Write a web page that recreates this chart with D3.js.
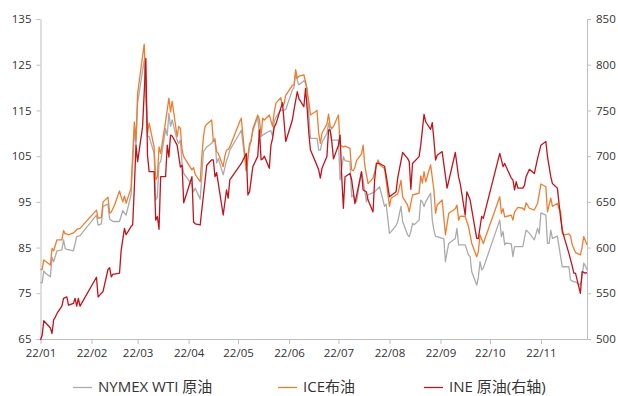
<!DOCTYPE html>
<html><head><meta charset="utf-8">
<script src="https://cdn.jsdelivr.net/npm/d3@7"></script>
<style>
html,body{margin:0;padding:0;background:#fff;}
svg{display:block;}
text{font-family:"Open Sans","Noto Sans CJK SC",sans-serif;fill:#333;}
</style></head>
<body><svg id="c" width="618" height="396"></svg>
<script>
// ---- data (2022, Chinese trading days) ----
const wtiDates = ["01-04","01-05","01-06","01-07","01-10","01-11","01-12","01-14","01-17","01-18","01-19","01-20","01-24","01-26","01-28","02-07","02-08","02-10","02-11","02-14","02-15","02-17","02-21","02-23","02-25","02-28","03-02","03-03","03-04","03-08","03-10","03-11","03-14","03-15","03-16","03-17","03-18","03-21","03-22","03-23","03-24","03-25","03-28","03-29","03-30","03-31","04-01","04-06","04-07","04-08","04-11","04-12","04-13","04-14","04-15","04-18","04-19","04-20","04-21","04-22","04-25","04-26","04-27","04-28","04-29","05-05","05-06","05-09","05-11","05-13","05-16","05-17","05-18","05-19","05-23","05-24","05-25","05-26","05-27","05-30","05-31","06-02","06-06","06-07","06-08","06-09","06-10","06-13","06-14","06-15","06-16","06-17","06-20","06-21","06-22","06-23","06-24","06-27","06-28","06-30","07-01","07-04","07-05","07-07","07-08","07-11","07-12","07-13","07-15","07-18","07-19","07-21","07-22","07-25","07-26","07-29","08-01","08-02","08-04","08-05","08-08","08-09","08-11","08-12","08-15","08-16","08-17","08-18","08-19","08-22","08-23","08-24","08-25","08-26","08-29","08-30","08-31","09-01","09-02","09-05","09-06","09-07","09-08","09-09","09-13","09-14","09-15","09-16","09-19","09-20","09-21","09-22","09-23","09-26","09-27","09-28","09-29","09-30","10-10","10-11","10-12","10-13","10-14","10-17","10-18","10-19","10-20","10-24","10-26","10-27","10-28","10-31","11-02","11-03","11-04","11-07","11-08","11-09","11-10","11-11","11-14","11-15","11-17","11-18","11-21","11-22","11-24","11-25","11-28","11-29","11-30","12-01","12-02"];
const wtiValues = [77.3,77.3,79.9,79.4,78.6,82.9,81.9,84.3,84.5,86.7,84.8,84.6,84.3,87.4,87.6,92.1,89.9,90.2,94.0,94.5,91.2,90.7,90.7,93.1,92.1,96.5,110.4,107.4,116.6,126.0,109.3,109.3,105.6,95.4,96.0,103.4,103.8,111.0,109.5,114.4,111.5,112.9,108.5,107.8,108.5,103.4,101.2,98.8,97.2,98.0,95.6,100.5,106.0,106.5,107.0,107.8,108.5,108.9,103.5,104.5,100.9,102.5,104.0,104.9,106.3,110.0,110.7,101.8,107.0,110.5,113.6,109.4,109.3,109.6,110.5,110.5,109.4,112.5,113.5,115.1,115.0,115.2,119.5,120.0,123.1,121.5,120.6,121.5,121.0,119.8,114.0,108.9,108.9,108.9,106.3,106.3,108.0,110.0,112.2,108.5,108.5,108.5,99.8,104.9,104.0,103.8,96.1,96.5,95.0,101.6,99.8,95.0,96.5,97.0,97.2,98.3,94.0,94.5,88.1,88.5,89.8,90.7,94.0,90.7,87.8,87.4,88.5,90.3,90.0,91.0,95.4,95.0,94.0,95.0,96.9,91.0,88.8,87.4,87.4,87.0,87.0,81.9,84.0,85.9,87.0,89.2,85.6,85.6,85.6,84.5,83.4,83.0,79.7,76.8,78.5,81.9,80.1,80.5,91.0,87.4,88.5,85.6,86.0,85.8,83.0,85.2,85.2,85.2,88.8,88.5,88.1,86.7,89.2,88.0,92.6,92.1,85.9,85.9,88.8,87.0,87.5,85.2,80.8,80.8,80.8,77.9,77.5,77.5,76.8,78.5,81.6,81.0,80.1];

const brentDates = ["01-04","01-05","01-06","01-07","01-10","01-11","01-12","01-14","01-17","01-18","01-19","01-20","01-21","01-24","01-25","01-26","01-28","02-07","02-08","02-10","02-11","02-14","02-15","02-16","02-18","02-21","02-22","02-23","02-24","02-25","02-28","03-02","03-03","03-04","03-08","03-10","03-11","03-14","03-15","03-16","03-17","03-18","03-21","03-23","03-24","03-25","03-28","03-29","03-30","03-31","04-01","04-06","04-07","04-08","04-11","04-12","04-13","04-14","04-15","04-18","04-19","04-20","04-21","04-22","04-25","04-26","04-27","04-28","04-29","05-05","05-06","05-09","05-11","05-12","05-13","05-16","05-17","05-18","05-19","05-20","05-23","05-25","05-26","05-27","05-30","05-31","06-01","06-02","06-06","06-07","06-08","06-09","06-10","06-13","06-14","06-15","06-16","06-17","06-20","06-21","06-22","06-23","06-24","06-27","06-28","06-29","06-30","07-01","07-04","07-05","07-07","07-08","07-11","07-12","07-13","07-14","07-15","07-18","07-19","07-20","07-22","07-25","07-28","07-29","08-01","08-04","08-05","08-08","08-09","08-11","08-12","08-15","08-16","08-18","08-22","08-23","08-24","08-25","08-26","08-29","08-31","09-01","09-02","09-05","09-07","09-09","09-13","09-14","09-15","09-16","09-19","09-21","09-23","09-26","09-27","09-28","09-30","10-10","10-11","10-12","10-13","10-17","10-18","10-19","10-20","10-21","10-24","10-25","10-26","10-28","10-31","11-02","11-04","11-07","11-08","11-10","11-11","11-14","11-15","11-16","11-17","11-18","11-21","11-22","11-23","11-25","11-28","11-29","11-30","12-01","12-02"];
const brentValues = [80.2,80.2,82.3,82.0,81.2,84.8,84.3,86.7,86.7,88.7,88.0,88.0,87.8,88.2,88.5,89.0,89.2,93.2,91.4,91.6,95.0,96.0,92.5,92.8,94.3,97.4,96.1,95.0,96.3,94.7,98.0,112.5,108.5,118.7,129.5,110.0,112.2,107.0,99.8,100.5,107.0,105.6,112.6,117.7,114.7,117.0,109.3,111.5,111.0,106.3,104.9,102.0,102.5,101.0,99.4,104.9,109.3,111.5,112.0,112.9,108.2,108.5,106.0,105.6,102.7,105.0,106.3,106.5,107.0,112.5,113.3,101.8,107.8,108.2,111.0,114.0,112.9,109.6,113.3,112.9,114.0,111.5,114.7,116.6,117.8,115.8,116.5,118.3,120.5,120.6,123.9,122.0,122.5,122.8,121.3,119.1,117.0,114.0,114.7,115.0,110.1,107.8,110.0,112.0,114.2,111.5,111.0,111.5,114.0,107.4,107.0,107.2,106.7,102.0,101.8,102.5,104.0,105.5,107.4,103.0,99.0,100.2,104.2,103.1,102.3,94.0,95.8,96.5,96.7,99.7,96.1,94.3,92.8,96.5,96.9,100.7,99.1,101.6,99.4,103.1,97.6,92.5,94.3,95.4,87.8,92.5,93.5,94.3,91.0,91.9,91.8,89.6,85.9,83.0,84.1,87.8,85.9,96.1,92.5,93.5,91.7,92.1,91.0,92.8,93.3,93.8,93.6,93.2,94.8,93.6,93.2,94.7,98.9,98.3,92.8,95.8,94.0,94.7,93.5,92.8,88.1,87.8,88.0,87.5,85.6,83.9,83.4,85.0,87.4,86.5,85.6];

const ineDates = ["01-04","01-05","01-06","01-07","01-10","01-11","01-12","01-13","01-14","01-17","01-18","01-20","01-21","01-24","01-25","01-26","01-27","01-28","02-07","02-08","02-09","02-11","02-14","02-15","02-16","02-17","02-18","02-21","02-22","02-24","02-25","02-28","03-01","03-02","03-03","03-04","03-07","03-09","03-10","03-11","03-14","03-15","03-16","03-17","03-18","03-21","03-22","03-23","03-24","03-25","03-28","03-29","03-30","03-31","04-01","04-06","04-07","04-08","04-11","04-15","04-18","04-19","04-20","04-21","04-25","04-27","04-28","04-29","05-06","05-09","05-10","05-11","05-13","05-16","05-17","05-18","05-19","05-20","05-23","05-24","05-25","05-26","05-27","05-31","06-02","06-06","06-07","06-09","06-10","06-13","06-14","06-15","06-16","06-17","06-20","06-22","06-23","06-24","06-27","06-28","06-29","06-30","07-01","07-04","07-05","07-06","07-07","07-08","07-11","07-12","07-14","07-18","07-19","07-21","07-22","07-25","07-26","07-27","07-29","08-01","08-02","08-04","08-08","08-09","08-12","08-15","08-16","08-17","08-18","08-22","08-23","08-25","08-26","08-29","08-30","08-31","09-01","09-02","09-05","09-08","09-13","09-15","09-16","09-19","09-20","09-22","09-26","09-27","09-29","09-30","10-10","10-11","10-12","10-13","10-17","10-18","10-19","10-20","10-21","10-24","10-25","10-26","10-28","10-31","11-02","11-04","11-07","11-08","11-10","11-11","11-14","11-16","11-17","11-18","11-21","11-23","11-24","11-25","11-28","11-29","12-01","12-02"];
const ineValues = [499,504,520,518,512,506,521,524,528,536,544.5,546,537,539,544.5,536,544.5,536,567.5,546,548,552,576,578,568,571,571,572,597,621,614,623,625,665,712,694,732,807,701,683,683,630,634,620,677.5,677.5,712,699,723,722,712,700,688,690,649,677.5,628,626,624.7,690,696,696,677.5,682,635.6,663,654,674,692,703,657.5,661,688.5,700,728.6,696,697,700,686.7,712,719.5,732,735,758.5,716,739.5,750.5,770.5,763,754,774,752,725,706.7,694,685,676,686.7,699.5,728.6,728.6,715,697,712,723,677.5,643,677.5,681,674.5,648,683,663,661,652,639,674,692,692,689,679,655.6,661,676,704,697.6,694,663.7,692,699.5,712,745.8,737.6,729.3,736.6,717.6,695.8,701,705,665,704,677,670,635.6,661,652,610,610,634,632,703,696,688.5,692,676,674,663,672,665,665,668,677.5,685.6,681,697.6,712,716,699.5,677.5,670,665,632,619,612,593.7,580,572,572,550,573.6,572,572.6];

const leftTicks = [65,75,85,95,105,115,125,135];
const rightTicks = [500,550,600,650,700,750,800,850];
const monthTicks = ["01-04","02-04","03-04","04-04","05-04","06-04","07-04","08-04","09-04","10-04","11-04"];
const seriesNames = ["NYMEX WTI 原油","ICE布油","INE 原油(右轴)"];
const seriesColors = ["#ABABAB","#ED7D31","#C0141C"];

// ---- chart ----
const parse = s => d3.timeParse("%Y-%m-%d")("2022-" + s);
const svg = d3.select("#c");
const L = 40.5, R = 587, T = 19, B = 339;
const x = d3.scaleTime().domain([parse("01-04"), parse("12-02")]).range([L, R]);
const yL = d3.scaleLinear().domain([65,135]).range([B,T]);
const yR = d3.scaleLinear().domain([500,850]).range([B,T]);

const axisColor = "#BFBFBF";
function styleAxis(g){
  g.selectAll("path.domain").attr("stroke", axisColor).attr("stroke-width",1);
  g.selectAll(".tick line").attr("stroke", axisColor);
  g.selectAll("text").attr("font-size","11.5px").attr("fill","#333")
   .attr("font-family",'"Open Sans","Noto Sans CJK SC",sans-serif');
}
const gL = svg.append("g").attr("transform",`translate(${L},0)`)
  .call(d3.axisLeft(yL).tickValues(leftTicks).tickSize(4).tickSizeOuter(0).tickPadding(5));
styleAxis(gL);
const gR = svg.append("g").attr("transform",`translate(${R},0)`)
  .call(d3.axisRight(yR).tickValues(rightTicks).tickSize(4).tickSizeOuter(0).tickPadding(5));
styleAxis(gR);
const gB = svg.append("g").attr("transform",`translate(0,${B})`)
  .call(d3.axisBottom(x).tickValues(monthTicks.map(parse)).tickFormat(d3.timeFormat("%y/%m")).tickSize(5).tickSizeOuter(0).tickPadding(5));
styleAxis(gB);

function draw(dates, values, y, color){
  const data = dates.map((d,i)=>({t:parse(d), v:values[i]}));
  svg.append("path").datum(data)
    .attr("fill","none").attr("stroke",color).attr("stroke-width",1.3)
    .attr("stroke-linejoin","round")
    .attr("d", d3.line().x(d=>x(d.t)).y(d=>y(d.v)));
}
draw(wtiDates, wtiValues, yL, seriesColors[0]);
draw(brentDates, brentValues, yL, seriesColors[1]);
draw(ineDates, ineValues, yR, seriesColors[2]);

// legend
const legX = [73, 278, 424];
const lg = svg.append("g");
seriesNames.forEach((n,i)=>{
  lg.append("line").attr("x1",legX[i]).attr("x2",legX[i]+19).attr("y1",387.5).attr("y2",387.5)
    .attr("stroke",seriesColors[i]).attr("stroke-width",1.3);
  lg.append("text").attr("x",legX[i]+25).attr("y",391.5).attr("font-size","15px").text(n);
});
</script></body></html>
